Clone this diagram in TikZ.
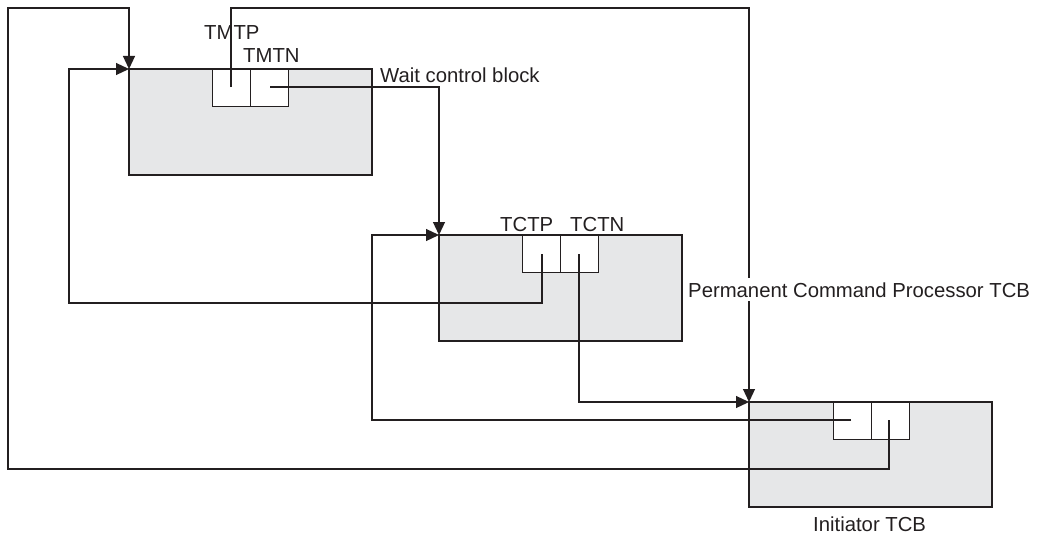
\documentclass[tikz,border=0pt]{standalone}
\usepackage{fontspec}
\setmainfont{Liberation Sans}
\usetikzlibrary{arrows.meta}
\definecolor{blkfill}{HTML}{E6E7E8}
\definecolor{ink}{HTML}{231F20}
\begin{document}
\begin{tikzpicture}[x=1pt,y=-1pt,
  block/.style={draw=ink,fill=blkfill,line width=1.2pt,inner sep=0pt,outer sep=0pt,anchor=north west},
  cell/.style={draw=ink,fill=white,line width=0.9pt,inner sep=0pt,outer sep=0pt,anchor=north west,minimum width=38pt,minimum height=37pt},
  link/.style={draw=ink,line width=1.2pt},
  arr/.style={link,-{Triangle[length=13pt,width=12pt]}},
  lbl/.style={font=\fontsize{20.3}{24}\selectfont,text=ink,inner sep=0pt,anchor=base west}]
\useasboundingbox (0,0) rectangle (1046,535);
% blocks
\node[block,minimum width=243pt,minimum height=106pt] (wcb) at (129,69) {};
\node[block,minimum width=243pt,minimum height=106pt] (pcp) at (439,235) {};
\node[block,minimum width=243pt,minimum height=105pt] (init) at (749,402) {};
% cells
\node[cell] (tmtp) at (212,69) {};
\node[cell] (tmtn) at (250,69) {};
\node[cell] (tctp) at (522,235) {};
\node[cell] (tctn) at (560,235) {};
\node[cell] (ip) at (833,402) {};
\node[cell] (in) at (871,402) {};
% pointer origins
\coordinate (p1) at (231,87);
\coordinate (p2) at (270,87);
\coordinate (p3) at (542,254);
\coordinate (p4) at (579,254);
\coordinate (p5) at (851,420);
\coordinate (p6) at (889,420);
% connectors
\draw[arr] (p1) -- (231,8) -- (749,8) -- (init.north west);
\draw[arr] (p2) -- (439,87) -- (pcp.north west);
\draw[arr] (p3) -- (542,303) -- (69,303) -- (69,69) -- (wcb.north west);
\draw[arr] (p4) -- (579,402) -- (init.north west);
\draw[arr] (p5) -- (372,420) -- (372,235) -- (pcp.north west);
\draw[arr] (p6) -- (889,469) -- (8,469) -- (8,8) -- (129,8) -- (wcb.north west);
% labels
\node[lbl] (l1) at (204,40) {TMTP};
\node[lbl] (l2) at (243,63) {TMTN};
\node[lbl] (l3) at (380,82) {Wait control block};
\node[lbl] (l4) at (500,231) {TCTP};
\node[lbl] (l5) at (570,231) {TCTN};
\node[lbl,fill=white,inner ysep=4pt] (l6) at (688,297) {Permanent Command Processor TCB};
\node[lbl] (l7) at (813,531) {Initiator TCB};
\end{tikzpicture}
\end{document}
